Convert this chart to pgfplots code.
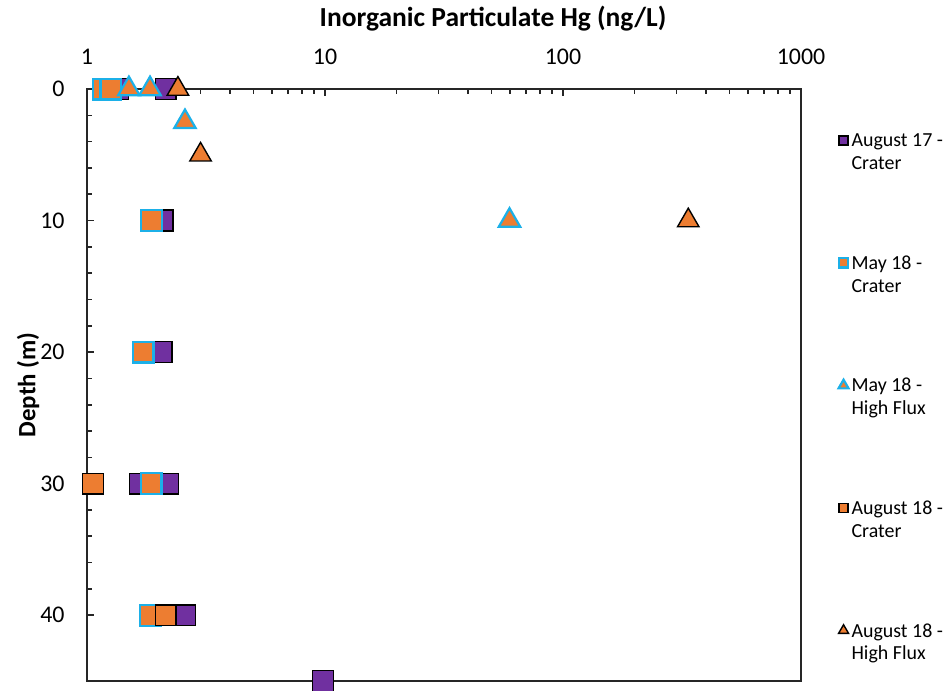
\documentclass[border=0pt]{standalone}
\usepackage{pgfplots}
\pgfplotsset{compat=1.18}
\usepackage{fontspec}
\setmainfont{Carlito}
\definecolor{cpurple}{HTML}{7030A0}
\definecolor{corange}{HTML}{ED7D31}
\definecolor{cblue}{HTML}{1CB0E8}
\pgfplotsset{
  sq legend/.style={legend image code/.code={\draw[##1, mark size=2.3bp] plot coordinates {(0.1cm,0cm)};}},
  tri legend/.style={legend image code/.code={\draw[##1, mark size=2.9bp] plot coordinates {(0.1cm,0cm)};}},
}
\begin{document}
\begin{tikzpicture}
\path[use as bounding box] (0,0) rectangle (474bp,345.5bp);
\begin{axis}[
  at={(43.5bp,5bp)}, anchor=south west,
  width=357bp, height=296bp, scale only axis,
  xmode=log, xmin=1, xmax=1000,
  ymin=0, ymax=45, y dir=reverse,
  ytick={0,10,20,30,40}, minor y tick num=4,
  xtick={1,10,100,1000}, xticklabels={1,10,100,1000},
  xtick pos=upper, xticklabel pos=upper, ytick pos=left,
  tick align=inside,
  major tick length=3.5bp, minor tick length=2.5bp,
  axis line style={line width=1bp, black!85},
  every tick/.style={line width=0.8bp, black!85},
  /pgf/number format/assume math mode=true,
  tick label style={font=\fontsize{12}{14}\selectfont},
  xticklabel style={anchor=base, yshift=12.5bp, inner sep=0pt},
  yticklabel style={anchor=east, xshift=-11bp, inner sep=0pt},
  xlabel={\textbf{Inorganic Particulate Hg (ng/L)}},
  x label style={at={(axis description cs:0.5686,1)}, anchor=base, yshift=31.5bp, font=\fontsize{13.8}{16}\selectfont},
  ylabel={\textbf{Depth (m)}},
  y label style={at={(axis description cs:-0.0826,0.5)}, anchor=center, rotate=0, font=\fontsize{12.5}{14}\selectfont},
  clip=false,
  legend cell align=left,
  legend style={at={(axis description cs:1.052,0.935)}, anchor=north west, draw=none, fill=none,
    font=\fontsize{10}{11.5}\selectfont, row sep=48.75bp, inner sep=0pt,
    nodes={inner sep=1.5bp}},
  sq legend,
]
% August 17 - Crater
\addplot[only marks, mark=square*, mark size=5.2bp, mark options={fill=cpurple, draw=black, line width=0.7bp}]
  coordinates {(1.35,0) (2.14,0) (2.08,10) (2.06,20) (1.67,30) (2.19,30) (2.58,40) (9.8,45)};
\addlegendentry{\begin{tabular}[t]{@{}l@{}}August 17 -\\Crater\end{tabular}}
% May 18 - Crater
\addplot[only marks, mark=square*, mark size=5.2bp, mark options={fill=corange, draw=cblue, line width=1.1bp}]
  coordinates {(1.17,0) (1.26,0) (1.87,10) (1.72,20) (1.86,30) (1.84,40)};
\addlegendentry{\begin{tabular}[t]{@{}l@{}}May 18 -\\Crater\end{tabular}}
% May 18 - High Flux
\addplot[only marks, mark=triangle*, mark size=6.2bp, mark options={fill=corange, draw=cblue, line width=1.1bp}, tri legend]
  coordinates {(1.50,0) (1.84,0) (2.58,2.5) (59.6,10)};
\addlegendentry{\begin{tabular}[t]{@{}l@{}}May 18 -\\High Flux\end{tabular}}
% August 18 - Crater
\addplot[only marks, mark=square*, mark size=5.2bp, mark options={fill=corange, draw=black, line width=0.7bp}]
  coordinates {(1.06,30) (2.14,40)};
\addlegendentry{\begin{tabular}[t]{@{}l@{}}August 18 -\\Crater\end{tabular}}
% August 18 - High Flux
\addplot[only marks, mark=triangle*, mark size=6.2bp, mark options={fill=corange, draw=black, line width=0.7bp}, tri legend]
  coordinates {(2.41,0) (3.0,5) (336,10)};
\addlegendentry{\begin{tabular}[t]{@{}l@{}}August 18 -\\High Flux\end{tabular}}
\end{axis}
\end{tikzpicture}
\end{document}
